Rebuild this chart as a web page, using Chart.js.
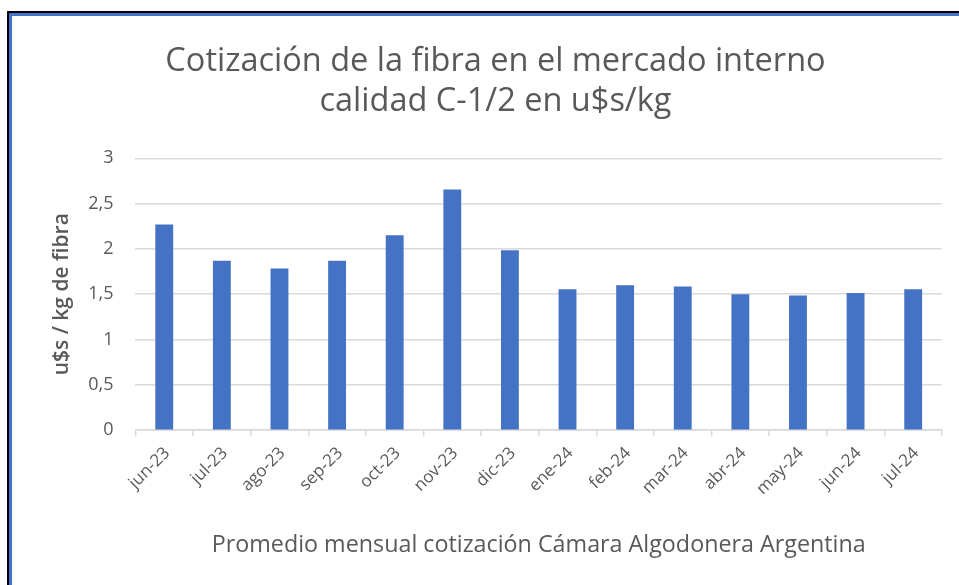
<!DOCTYPE html>
<html>
<head>
<meta charset="utf-8">
<script src="https://cdn.jsdelivr.net/npm/chart.js@4/dist/chart.umd.min.js"></script>
<style>
  html, body { margin: 0; padding: 0; background: #fff; overflow: hidden; }
  .frame { position: absolute; left: 7px; top: 11px; right: -20px; bottom: -20px;
           border-left: 2px solid #000; border-top: 2px solid #000; }
  .frame div { position: absolute; left: 0; top: 0; right: 0; bottom: 0;
               border-left: 3px solid #4472c4; border-top: 3px solid #4472c4; }
  #wrap { position: absolute; left: 0; top: 0; width: 959px; height: 585px; }
</style>
</head>
<body>
<div class="frame"><div></div></div>
<div id="wrap"><canvas id="chart"></canvas></div>
<script>
const months = ['jun-23', 'jul-23', 'ago-23', 'sep-23', 'oct-23', 'nov-23', 'dic-23',
                'ene-24', 'feb-24', 'mar-24', 'abr-24', 'may-24', 'jun-24', 'jul-24'];
const prices = [2.27, 1.87, 1.785, 1.87, 2.15, 2.655, 1.985,
                1.555, 1.60, 1.585, 1.50, 1.485, 1.515, 1.555];
const yTicks = [0, 0.5, 1, 1.5, 2, 2.5, 3];

const titleLines = ['Cotización de la fibra en el mercado interno', 'calidad C-1/2 en u$s/kg'];
const yTitle = 'u$s / kg de fibra';
const xTitle = 'Promedio mensual cotización Cámara Algodonera Argentina';

const grey = '#595959';
const gridGrey = '#d9d9d9';
const face = '"Open Sans"';

const ctx = document.getElementById('chart').getContext('2d');
const chart = new Chart(ctx, {
  type: 'bar',
  data: {
    labels: months,
    datasets: [{
      data: prices,
      backgroundColor: '#4472c4',
      barPercentage: 0.31,
      categoryPercentage: 1
    }]
  },
  options: {
    responsive: true,
    maintainAspectRatio: false,
    animation: false,
    layout: { padding: { left: 49, right: 17, top: 0, bottom: 26 } },
    plugins: {
      legend: { display: false },
      tooltip: { enabled: false },
      title: {
        display: true,
        text: titleLines,
        color: grey,
        font: { family: face, size: 32.5, weight: 'normal', lineHeight: 1.22 },
        padding: { top: 42, bottom: 37 }
      }
    },
    scales: {
      x: {
        grid: { display: true, drawOnChartArea: false, color: gridGrey, lineWidth: 1.5, tickLength: 6 },
        border: { display: true, color: gridGrey, width: 1.5 },
        ticks: {
          color: grey,
          font: { family: face, size: 17 },
          minRotation: 45,
          maxRotation: 45,
          padding: 7,
          labelOffset: 3
        },
        title: {
          display: true,
          text: xTitle,
          color: grey,
          font: { family: face, size: 23.3 },
          padding: { top: 25, bottom: 0 }
        }
      },
      y: {
        min: 0,
        max: 3,
        afterBuildTicks: axis => { axis.ticks = yTicks.map(v => ({ value: v })); },
        grid: { color: gridGrey, lineWidth: 1.5, drawTicks: false },
        border: { display: false },
        ticks: {
          color: grey,
          font: { family: face, size: 18 },
          padding: 22,
          callback: v => String(v).replace('.', ',')
        },
        title: {
          display: true,
          text: yTitle,
          color: grey,
          font: { family: face, size: 21, weight: '600' },
          padding: { top: 0, bottom: -8 }
        }
      }
    }
  }
});
</script>
</body>
</html>
